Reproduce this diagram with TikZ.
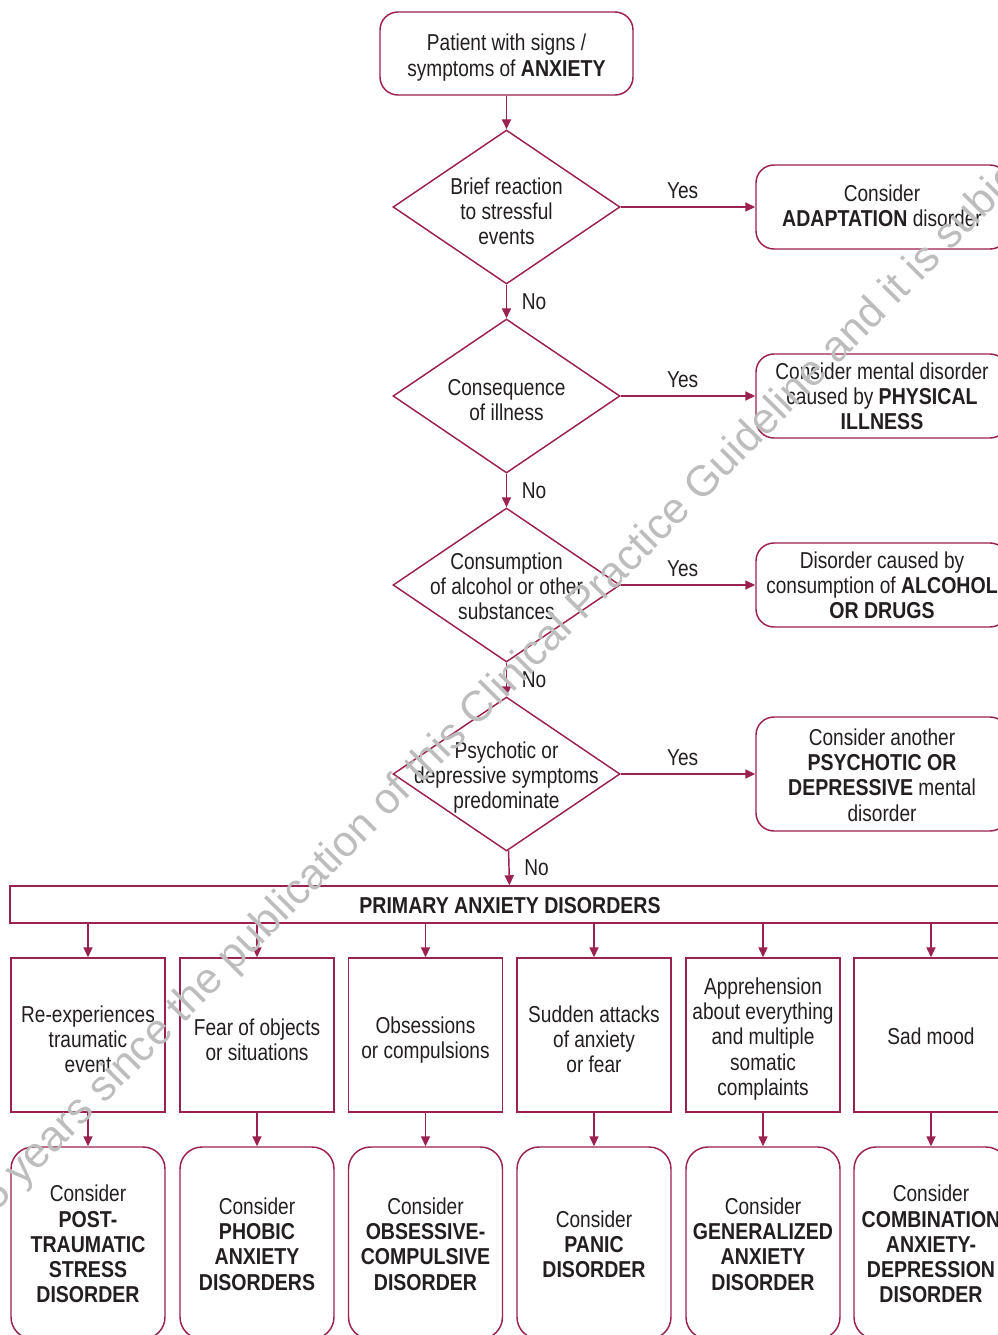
\documentclass[tikz,border=0pt]{standalone}
\usepackage{fontspec}
\setmainfont{Liberation Sans}[FakeStretch=0.83,BoldFeatures={FakeStretch=0.85}]
\newfontfamily\wmfont{Liberation Sans}
\usetikzlibrary{arrows.meta,shapes.geometric}
\definecolor{lc}{HTML}{9B2150}
\definecolor{tc}{HTML}{231F20}
\definecolor{wm}{HTML}{BDBDBD}
\begin{document}
\begin{tikzpicture}[x=0.75pt,y=-0.75pt,
  every node/.style={text=tc,font=\fontsize{17.25pt}{18.9pt}\selectfont,align=center},
  rbox/.style={draw=lc,line width=1.1pt,rounded corners=13.5pt,inner sep=0pt},
  sbox/.style={draw=lc,line width=1.1pt,inner sep=0pt},
  dia/.style={draw=lc,line width=1.1pt,diamond,inner sep=0pt,minimum width=170.25pt,minimum height=115.5pt},
  arr/.style={draw=lc,line width=1.1pt,-{Triangle[length=7.5pt,width=6.8pt]}},
  lbl/.style={inner sep=0pt}]
\useasboundingbox (0,0) rectangle (998,1335);
\clip (0,0) rectangle (998,1335);
\fill[white] (0,0) rectangle (998,1335);

% top box
\node[rbox,minimum width=189.75pt,minimum height=62.25pt] (top) at (506.5,53.5) {};
\node[lbl] (topt) at ([yshift=-3pt]top) {Patient with signs /\\symptoms of \textbf{ANXIETY}};

% diamonds
\node[dia] (d1) at (506.5,207) {};
\node[dia] (d2) at (506.5,396) {};
\node[dia] (d3) at (506.5,585) {};
\node[dia] (d4) at (506.5,774) {};
\node[lbl] (d1t) at ([yshift=-3pt]d1) {Brief reaction\\to stressful\\events};
\node[lbl] (d2t) at ([yshift=-3pt]d2) {Consequence\\of illness};
\node[lbl] (d3t) at ([yshift=-1pt]d3) {Consumption\\of alcohol or other\\substances};
\node[lbl] (d4t) at ([yshift=-2.5pt]d4) {Psychotic or\\depressive symptoms\\predominate};

% right boxes
\node[rbox,minimum width=189pt,minimum height=63pt] (r1) at (882,207) {};
\node[lbl] (r1t) at ([yshift=1pt]r1) {Consider\\\textbf{ADAPTATION} disorder};
\node[rbox,minimum width=189pt,minimum height=63pt] (r2) at (882,396) {};
\node[lbl] (r2t) at (r2) {Consider mental disorder\\caused by \textbf{PHYSICAL}\\\textbf{ILLNESS}};
\node[rbox,minimum width=189pt,minimum height=63pt] (r3) at (882,585) {};
\node[lbl] (r3t) at (r3) {Disorder caused by\\consumption of \textbf{ALCOHOL}\\\textbf{OR DRUGS}};
\node[rbox,minimum width=189pt,minimum height=85.5pt] (r4) at (882,774) {};
\node[lbl] (r4t) at ([yshift=-0.75pt]r4) {Consider another\\\textbf{PSYCHOTIC OR}\\\textbf{DEPRESSIVE} mental\\disorder};

% primary box
\node[sbox,minimum width=750pt,minimum height=27.75pt] (prim) at (510,904.5) {};
\node[lbl] (primt) at (510,906) {\textbf{PRIMARY ANXIETY DISORDERS}};

% symptom rectangles
\foreach \i/\x/\s/\t in {1/88/-3pt/{Re-experiences\\traumatic\\event},
                      2/257/-3.5pt/{Fear of objects\\or situations},
                      3/425.5/-3.5pt/{Obsessions\\or compulsions},
                      4/594/-3pt/{Sudden attacks\\of anxiety\\or fear},
                      5/763/-3pt/{Apprehension\\about everything\\and multiple\\somatic\\complaints},
                      6/931/-0.75pt/{Sad mood}}{
  \node[sbox,minimum width=115.5pt,minimum height=115.5pt] (s\i) at (\x,1035) {};
  \node[lbl] (s\i t) at ([yshift=\s]s\i) {\t};
}

% diagnosis boxes
\foreach \i/\x/\t in {1/88/{Consider\\\textbf{POST-}\\\textbf{TRAUMATIC}\\\textbf{STRESS}\\\textbf{DISORDER}},
                      2/257/{Consider\\\textbf{PHOBIC}\\\textbf{ANXIETY}\\\textbf{DISORDERS}},
                      3/425.5/{Consider\\\textbf{OBSESSIVE-}\\\textbf{COMPULSIVE}\\\textbf{DISORDER}},
                      4/594/{Consider\\\textbf{PANIC}\\\textbf{DISORDER}},
                      5/763/{Consider\\\textbf{GENERALIZED}\\\textbf{ANXIETY}\\\textbf{DISORDER}},
                      6/931/{Consider\\\textbf{COMBINATION}\\\textbf{ANXIETY-}\\\textbf{DEPRESSION}\\\textbf{DISORDER}}}{
  \node[rbox,rounded corners=16.5pt,minimum width=115.5pt,minimum height=144pt] (c\i) at (\x,1243) {};
  \node[lbl] (c\i t) at ([yshift=-0.75pt]c\i) {\t};
}

% connectors
\draw[arr] (top) -- (d1);
\draw[arr] (d1) -- node[lbl,pos=0.5,right=11pt] {No} (d2);
\draw[arr] (d2) -- node[lbl,pos=0.5,right=11pt] {No} (d3);
\draw[arr] (d3) -- node[lbl,pos=0.5,right=11pt] {No} (d4);
\draw[arr] (d4) -- node[lbl,pos=0.5,right=11pt] {No} (prim);
\draw[arr] (d1) -- node[lbl,pos=0.46,above=6pt] {Yes} (r1);
\draw[arr] (d2) -- node[lbl,pos=0.46,above=6pt] {Yes} (r2);
\draw[arr] (d3) -- node[lbl,pos=0.46,above=6pt] {Yes} (r3);
\draw[arr] (d4) -- node[lbl,pos=0.46,above=6pt] {Yes} (r4);
\foreach \i in {1,...,6}{
  \draw[arr] (prim.south -| s\i) -- (s\i);
  \draw[arr] (s\i) -- (c\i);
}

% watermark
\node[text=wm,font=\wmfont\fontsize{32.3pt}{32.3pt}\selectfont,rotate=45.2,anchor=base west,inner sep=0pt] (wmk) at (-4,1213) {5 years since the publication of this Clinical Practice Guideline and it is subject to updating.};
\end{tikzpicture}
\end{document}
